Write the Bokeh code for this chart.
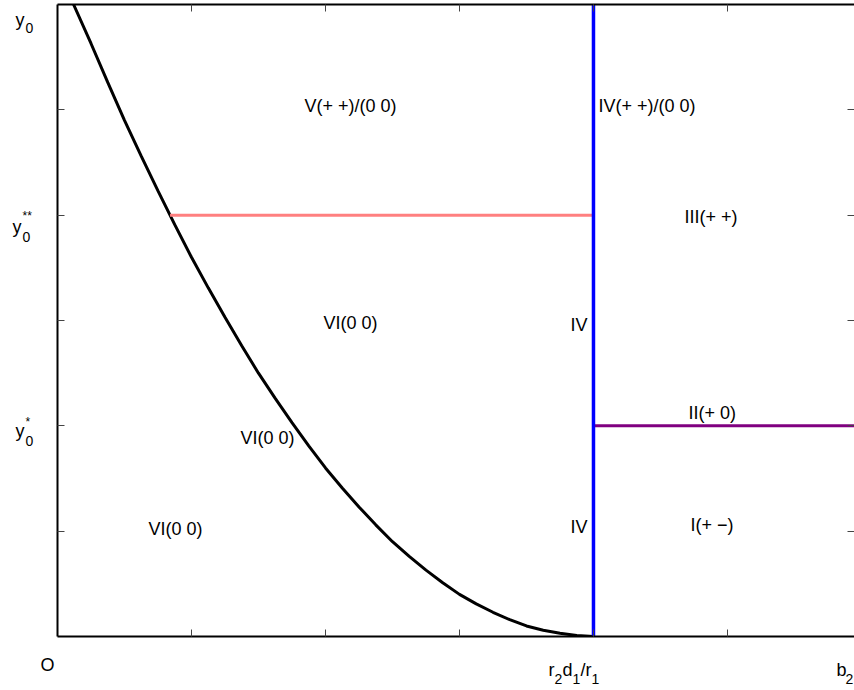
from bokeh.plotting import figure
from bokeh.models import Range1d, LinearAxis, FixedTicker, ColumnDataSource
from bokeh.core.properties import value
from bokeh.embed import file_html
from bokeh.resources import INLINE

# ---- data ----
# boundary curve (black)
curve_x = [0.12, 0.25, 0.375, 0.5, 0.625, 0.75, 0.875, 1.0, 1.125, 1.25, 1.375, 1.5,
           1.625, 1.75, 1.875, 2.0, 2.125, 2.25, 2.375, 2.5, 2.625, 2.75, 2.875, 3.0,
           3.125, 3.25, 3.375, 3.5, 3.625, 3.75, 3.875, 4.0]
curve_y = [6.0, 5.63, 5.26, 4.90, 4.56, 4.23, 3.91, 3.60, 3.31, 3.03, 2.76, 2.50,
           2.26, 2.03, 1.81, 1.60, 1.41, 1.23, 1.06, 0.90, 0.76, 0.63, 0.51, 0.40,
           0.31, 0.23, 0.16, 0.10, 0.06, 0.03, 0.01, 0.0]

# key levels
x_r = 4.0          # r2d1/r1
x_end = 5.948      # right end of the window
y_top = 6.0        # y0
y_ss = 4.0         # y0**
y_s = 2.0          # y0*
pink_start = 0.84  # where y0** meets the curve

pink_x = [pink_start, x_r]
pink_y = [y_ss, y_ss]
blue_x = [x_r, x_r]
blue_y = [0.0, y_top]
purple_x = [x_r, x_end]
purple_y = [y_s, y_s]

x_ticks = [1, 2, 3, 4, 5]
y_ticks = [1, 2, 3, 4, 5]

# region labels
left_labels = ["V(+ +)/(0 0)", "IV(+ +)/(0 0)", "III(+ +)", "VI(0 0)", "II(+ 0)",
               "VI(0 0)", "VI(0 0)", "I(+ \u2212)"]
left_lx = [1.843, 4.037, 4.679, 1.985, 4.709, 1.366, 0.679, 4.724]
left_ly = [5.032, 5.032, 3.987, 2.981, 2.122, 1.889, 1.025, 1.054]
right_labels = ["IV", "IV"]
right_lx = [3.955, 3.955]
right_ly = [2.962, 1.044]

FONT = "Liberation Sans"

X0_PX, XS = 57.0, 134.0     # page pixel of x=0, pixels per unit
Y0_PX, YS = 636.0, 105.33   # page pixel of y=0, pixels per unit

p = figure(width=854, height=688, output_backend="svg", toolbar_location=None,
           x_range=Range1d(0, x_end), y_range=Range1d(0, y_top),
           x_axis_location=None, y_axis_location=None,
           min_border_left=57, min_border_right=0, min_border_top=4, min_border_bottom=52)
p.outline_line_color = None
p.xgrid.visible = False
p.ygrid.visible = False
p.background_fill_color = "white"
p.border_fill_color = "white"


def make_axis(ticks, line=True):
    ax = LinearAxis(ticker=FixedTicker(ticks=ticks))
    ax.major_label_overrides = {t: "" for t in ticks}
    ax.major_label_standoff = 0
    ax.major_tick_in = 7
    ax.major_tick_out = 0
    ax.minor_tick_in = 0
    ax.minor_tick_out = 0
    ax.major_tick_line_color = "#444444"
    ax.major_tick_line_width = 1
    ax.axis_line_color = "black" if line else None
    ax.axis_line_width = 2
    return ax


p.add_layout(make_axis(x_ticks), "below")
p.add_layout(make_axis(y_ticks), "left")
p.add_layout(make_axis(x_ticks), "above")
p.add_layout(make_axis(y_ticks, line=False), "right")

p.line(curve_x, curve_y, line_color="black", line_width=3)
p.line(pink_x, pink_y, line_color="#ff8080", line_width=3)
p.line(purple_x, purple_y, line_color="#800080", line_width=3)
p.line(blue_x, blue_y, line_color="#0000ff", line_width=3.5)

src_l = ColumnDataSource(dict(x=left_lx, y=left_ly, t=left_labels))
p.text(x="x", y="y", text="t", source=src_l, text_font=value(FONT),
       text_font_size=value("18px"), text_align="left", text_baseline="middle",
       text_color="black")
src_r = ColumnDataSource(dict(x=right_lx, y=right_ly, t=right_labels))
p.text(x="x", y="y", text="t", source=src_r, text_font=value(FONT),
       text_font_size=value("18px"), text_align="right", text_baseline="middle",
       text_color="black")

# axis annotations outside the frame: (text, left px, middle px, size px)
outside = [
    ("y", 15, 20, 18), ("0", 25, 28, 14),
    ("y", 12, 227, 18), ("0", 22, 237, 14), ("**", 22, 216, 12),
    ("y", 15, 431, 18), ("0", 25, 441, 14), ("*", 25, 422, 12),
    ("O", 40, 664, 18),
    ("r", 548, 669, 18), ("2", 554, 678, 14), ("d", 562, 669, 18),
    ("1", 572, 678, 14), ("/r", 580, 669, 18), ("1", 591, 678, 14),
    ("b", 836, 669, 18), ("2", 845, 678, 14),
]
src_o = ColumnDataSource(dict(
    x=[(o[1] - X0_PX) / XS for o in outside],
    y=[(Y0_PX - o[2]) / YS for o in outside],
    t=[o[0] for o in outside],
    s=[f"{o[3]}px" for o in outside],
))
p.text(x="x", y="y", text="t", text_font_size="s", source=src_o, text_font=value(FONT),
       text_align="left", text_baseline="middle", text_color="black", level="overlay")

open("out.html", "w").write(file_html(p, INLINE))
